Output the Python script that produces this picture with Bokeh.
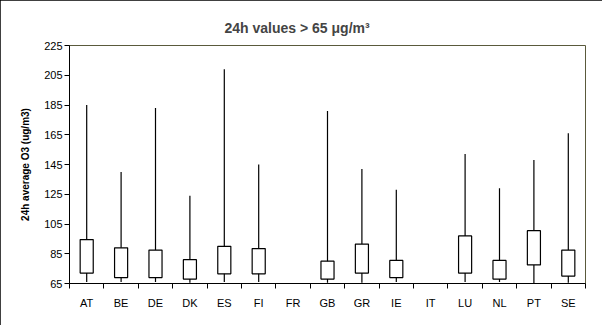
import math
from bokeh.plotting import figure
from bokeh.models import FixedTicker, ColumnDataSource, Range1d
from bokeh.embed import file_html
from bokeh.resources import INLINE

countries = ["AT", "BE", "DE", "DK", "ES", "FI", "FR", "GB", "GR", "IE", "IT", "LU", "NL", "PT", "SE"]
maxs = [185, 140, 183, 124, 209, 145, None, 181, 142, 128, None, 152, 129, 148, 166]
q3s = [94.5, 89, 87.5, 81, 90, 88.5, None, 80, 91.5, 80.5, None, 97, 80.5, 100.5, 87.5]
q1s = [72, 69, 69, 68, 71.5, 71.5, None, 68, 72, 69, None, 72, 68, 77.5, 70]
mins = [66, 66, 66, 65.5, 66, 66, None, 65.5, 65.5, 66, None, 66, 66, 65, 65.5]
y_ticks = [65, 85, 105, 125, 145, 165, 185, 205, 225]

idx = [i for i, m in enumerate(maxs) if m is not None]
src = ColumnDataSource(dict(
    x=[i + 0.5 for i in idx],
    top=[maxs[i] for i in idx],
    bottom=[mins[i] for i in idx],
    q3=[q3s[i] for i in idx],
    q1=[q1s[i] for i in idx],
))

p = figure(width=602, height=325, output_backend="svg", toolbar_location=None,
           x_range=Range1d(0, len(countries)), y_range=Range1d(65, 225),
           min_border_left=69, min_border_right=17, min_border_top=45, min_border_bottom=42)
p.styles = {"outline": "1px solid black", "outline-offset": "-1px"}

p.title.text = "24h values > 65 μg/m³"
p.title.align = "left"
p.title.text_font = "Liberation Sans"
p.title.text_font_size = "14px"
p.title.text_font_style = "bold"
p.title.offset = 155
p.title.standoff = 19

p.segment(x0="x", x1="x", y0="bottom", y1="top", source=src, line_color="black", line_width=1.2)
p.vbar(x="x", top="q3", bottom="q1", width=0.38, source=src, fill_color="white",
       line_color="black", line_width=1.2)

p.grid.visible = False
p.outline_line_color = "#5a5a3c"
p.outline_line_width = 1

xa = p.xaxis[0]
xa.ticker = FixedTicker(ticks=[i + 0.5 for i in range(len(countries))],
                        minor_ticks=list(range(len(countries) + 1)))
xa.major_label_overrides = {i + 0.5: c for i, c in enumerate(countries)}
xa.major_tick_out = 0
xa.major_tick_in = 0
xa.minor_tick_out = 5
xa.minor_tick_in = 0
xa.minor_tick_line_color = "black"
xa.axis_line_color = "black"
xa.major_label_text_font = "Liberation Sans"
xa.major_label_text_font_size = "11px"
xa.major_label_text_color = "black"
xa.major_label_standoff = 8

ya = p.yaxis[0]
ya.ticker = FixedTicker(ticks=y_ticks, minor_ticks=[])
ya.major_tick_out = 5
ya.major_tick_in = 0
ya.major_tick_line_color = "black"
ya.axis_line_color = "black"
ya.major_label_text_font = "Liberation Sans"
ya.major_label_text_font_size = "11px"
ya.major_label_text_color = "black"
ya.major_label_standoff = 2
ya.axis_label = "24h average O3 (ug/m3)"
ya.axis_label_text_font = "Liberation Sans"
ya.axis_label_text_font_size = "10px"
ya.axis_label_text_font_style = "bold"
ya.axis_label_text_color = "black"
ya.axis_label_standoff = 10

open("out.html", "w").write(file_html(p, INLINE))
